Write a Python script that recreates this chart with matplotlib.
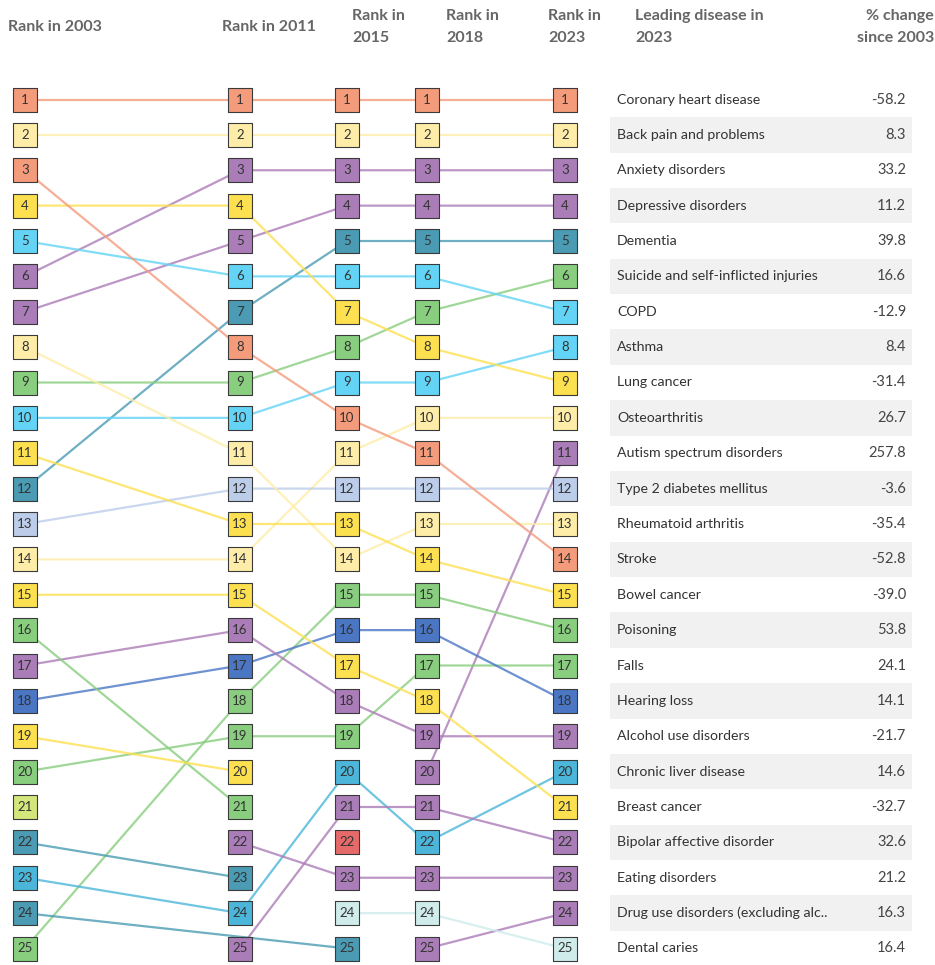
import matplotlib
matplotlib.use("Agg")
import matplotlib.pyplot as plt

plt.rcParams['font.family'] = ['Lato', 'DejaVu Sans']

# ---------------- data ----------------
years = ["2003", "2011", "2015", "2018", "2023"]

diseases = [
    "Coronary heart disease", "Back pain and problems", "Anxiety disorders",
    "Depressive disorders", "Dementia", "Suicide and self-inflicted injuries",
    "COPD", "Asthma", "Lung cancer", "Osteoarthritis", "Autism spectrum disorders",
    "Type 2 diabetes mellitus", "Rheumatoid arthritis", "Stroke", "Bowel cancer",
    "Poisoning", "Falls", "Hearing loss", "Alcohol use disorders",
    "Chronic liver disease", "Breast cancer", "Bipolar affective disorder",
    "Eating disorders", "Drug use disorders (excluding alc..", "Dental caries",
    # dropped out of the top 25 by 2023 (not labelled in the chart)
    "Other injury", "Other cancer", "Other condition A", "Other neurological A",
    "Other neurological B", "Other condition B",
]

N = None
rank_2003 = [1, 2, 6, 7, 12, 9, 5, 10, 4, 14, N, 13, 8, 3, 11, 25, 20, 18, 17, 23, 15, N, N, N, N, 16, 19, 21, 22, 24, N]
rank_2011 = [1, 2, 3, 5, 7, 9, 6, 10, 4, 14, N, 12, 11, 8, 13, 18, 19, 17, 16, 24, 15, 25, 22, N, N, 21, 20, N, 23, N, N]
rank_2015 = [1, 2, 3, 4, 5, 8, 6, 9, 7, 11, N, 12, 14, 10, 13, 15, 19, 16, 18, 20, 17, 21, 23, N, 24, N, N, N, N, 25, 22]
rank_2018 = [1, 2, 3, 4, 5, 7, 6, 9, 8, 10, 20, 12, 13, 11, 14, 15, 17, 16, 19, 22, 18, 21, 23, 25, 24, N, N, N, N, N, N]
rank_2023 = [1, 2, 3, 4, 5, 6, 7, 8, 9, 10, 11, 12, 13, 14, 15, 16, 17, 18, 19, 20, 21, 22, 23, 24, 25, N, N, N, N, N, N]

pct_change = [-58.2, 8.3, 33.2, 11.2, 39.8, 16.6, -12.9, 8.4, -31.4, 26.7, 257.8,
              -3.6, -35.4, -52.8, -39.0, 53.8, 24.1, 14.1, -21.7, 14.6, -32.7,
              32.6, 21.2, 16.3, 16.4]

SALMON, LYEL, PURP, YEL = "#F49B7C", "#FEEDA8", "#AB7DB8", "#FDE050"
CYAN, TEAL, GREEN, LBLUE = "#63D4F6", "#4A9BB3", "#88CE7E", "#BCCDEA"
BLUE, LCYAN, YGRN, RED, PALE = "#4A76C4", "#4BB6DA", "#D2E67C", "#E66A6A", "#CFECEB"

colors = [SALMON, LYEL, PURP, PURP, TEAL, GREEN, CYAN, CYAN, YEL, LYEL, PURP,
          LBLUE, LYEL, SALMON, YEL, GREEN, GREEN, BLUE, PURP, LCYAN, YEL, PURP,
          PURP, PURP, PALE,
          GREEN, YEL, YGRN, TEAL, TEAL, RED]

ranks = [rank_2003, rank_2011, rank_2015, rank_2018, rank_2023]

# ---------------- layout ----------------
W, H = 935, 965
col_x = [25, 240, 347, 427, 565]           # pixel x of each year column
row0_px, row_pitch = 99.5, 35.375          # pixel y of rank 1, pixel spacing

fig = plt.figure(figsize=(W / 100, H / 100), dpi=100)
ax = fig.add_axes([0, 0, 1, 1])
ax.set_xlim(0, W)
top = 1 - row0_px / row_pitch
bottom = 1 + (H - row0_px) / row_pitch
ax.set_ylim(bottom, top)
ax.axis("off")

# lines
for i, name in enumerate(diseases):
    pts = [(col_x[j], ranks[j][i]) for j in range(len(years)) if ranks[j][i] is not None]
    if len(pts) > 1:
        xs, ys = zip(*pts)
        ax.plot(xs, ys, color=colors[i], lw=1.6, alpha=0.8, zorder=2,
                solid_capstyle="butt")

# boxes
for j in range(len(years)):
    for i in range(len(diseases)):
        r = ranks[j][i]
        if r is None:
            continue
        ax.scatter(col_x[j], r, marker="s", s=310, color=colors[i],
                   edgecolor="#3a3a3a", linewidths=0.8, zorder=3)
        ax.text(col_x[j], r, str(r), ha="center", va="center", fontsize=9.5,
                color="#333333", zorder=4)

# table on the right
tab_left, tab_right = 610, 912
for k, name in enumerate(diseases[:25]):
    r = rank_2023[k]
    if r % 2 == 0:
        ax.axhspan(r - 0.5, r + 0.5, xmin=tab_left / W, xmax=tab_right / W,
                   color="#F1F1F1", zorder=0, lw=0)
    ax.text(617, r, name, ha="left", va="center", fontsize=10.2, color="#333333")
    ax.text(906, r, f"{pct_change[k]:.1f}", ha="right", va="center",
            fontsize=10.5, color="#444444")

# headers
def px_to_data_y(py):
    return top + py / row_pitch

hdr_kw = dict(fontsize=11.5, fontweight="bold", color="#666666", va="center",
              linespacing=1.75)
ax.text(8, px_to_data_y(27), "Rank in 2003", ha="left", **hdr_kw)
ax.text(222, px_to_data_y(27), "Rank in 2011", ha="left", **hdr_kw)
ax.text(352, px_to_data_y(27), "Rank in\n2015", ha="left", **hdr_kw)
ax.text(446, px_to_data_y(27), "Rank in\n2018", ha="left", **hdr_kw)
ax.text(548, px_to_data_y(27), "Rank in\n2023", ha="left", **hdr_kw)
ax.text(635, px_to_data_y(27), "Leading disease in\n2023", ha="left", **hdr_kw)
ax.text(934, px_to_data_y(27), "% change\nsince 2003", ha="right",
        multialignment="right", **hdr_kw)

fig.savefig("out.png", dpi=100)
